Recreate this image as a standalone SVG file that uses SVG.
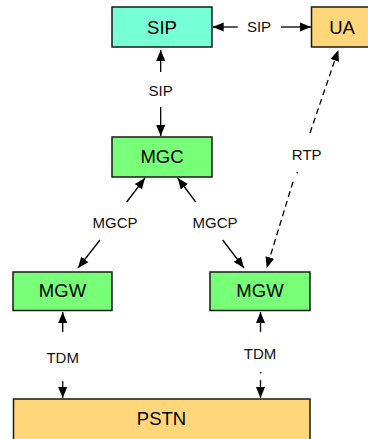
<svg xmlns="http://www.w3.org/2000/svg" width="368" height="439" viewBox="0 0 368 439">
<defs>
<marker id="ah" markerUnits="userSpaceOnUse" markerWidth="12" markerHeight="10" refX="11" refY="4.5" orient="auto-start-reverse" viewBox="0 0 12 9">
<path d="M0,0 L11,4.5 L0,9 z" fill="#000"/>
</marker>
<style>
.box{stroke:#1a1a1a;stroke-width:1.5}
.t{font-family:"Liberation Sans",Arial,sans-serif;font-size:18.5px;text-anchor:middle;fill:#000}
.l{font-family:"Liberation Sans",Arial,sans-serif;font-size:15px;text-anchor:middle;fill:#111}
.c{stroke:#000;stroke-width:1.3;fill:none}
.a{marker-end:url(#ah)}
.d{stroke-dasharray:6,4}
</style>
</defs>
<rect width="368" height="439" fill="#fff"/>
<g id="connectors">
<line class="c a" x1="237.7" y1="27" x2="212.7" y2="27"/>
<text class="l" x="259" y="32.3">SIP</text>
<line class="c a" x1="281" y1="27" x2="311" y2="27"/>
<line class="c a" x1="160.7" y1="72" x2="160.7" y2="50"/>
<text class="l" x="160.7" y="95.7">SIP</text>
<line class="c a" x1="160.7" y1="107" x2="160.7" y2="136"/>
<line class="c a" x1="126.7" y1="202" x2="145" y2="178"/>
<text class="l" x="115" y="228.3">MGCP</text>
<line class="c a" x1="100" y1="240" x2="78" y2="268"/>
<line class="c a" x1="195.7" y1="202" x2="177.7" y2="178"/>
<text class="l" x="215" y="228.3">MGCP</text>
<line class="c a" x1="222.7" y1="240" x2="244" y2="268"/>
<line class="c a d" x1="310" y1="133" x2="338.3" y2="50"/>
<text class="l" x="306.7" y="160">RTP</text>
<line class="c" x1="297.3" y1="172" x2="297" y2="173.3"/>
<line class="c a d" x1="293" y1="181.7" x2="266.7" y2="268"/>
<line class="c a" x1="62.7" y1="332" x2="62.7" y2="312"/>
<text class="l" x="62.7" y="363.3">TDM</text>
<line class="c a" x1="62.7" y1="381" x2="62.7" y2="398"/>
<line class="c a" x1="260.5" y1="332" x2="260.5" y2="312"/>
<text class="l" x="260" y="359.3">TDM</text>
<line class="c" x1="260.7" y1="372" x2="260.7" y2="373.5"/>
<line class="c a" x1="260.5" y1="380" x2="260.5" y2="398"/>
</g>
<g id="sip">
<rect class="box" x="112" y="7" width="100" height="40" fill="#77FFD5"/>
<text class="t" x="162" y="34">SIP</text>
</g>
<g id="ua">
<rect class="box" x="311.5" y="7" width="60" height="40" fill="#FFD67A"/>
<text class="t" x="342" y="34">UA</text>
</g>
<g id="mgc">
<rect class="box" x="112" y="137" width="100" height="40" fill="#77FF77"/>
<text class="t" x="162" y="162.5">MGC</text>
</g>
<g id="mgw1">
<rect class="box" x="13" y="272" width="99" height="38.5" fill="#77FF77"/>
<text class="t" x="62.5" y="296.7">MGW</text>
</g>
<g id="mgw2">
<rect class="box" x="210" y="272" width="100" height="38.5" fill="#77FF77"/>
<text class="t" x="260" y="296.7">MGW</text>
</g>
<g id="pstn">
<rect class="box" x="13.5" y="399" width="296.5" height="45" fill="#FFD67A"/>
<text class="t" x="161.5" y="425">PSTN</text>
</g>
</svg>
